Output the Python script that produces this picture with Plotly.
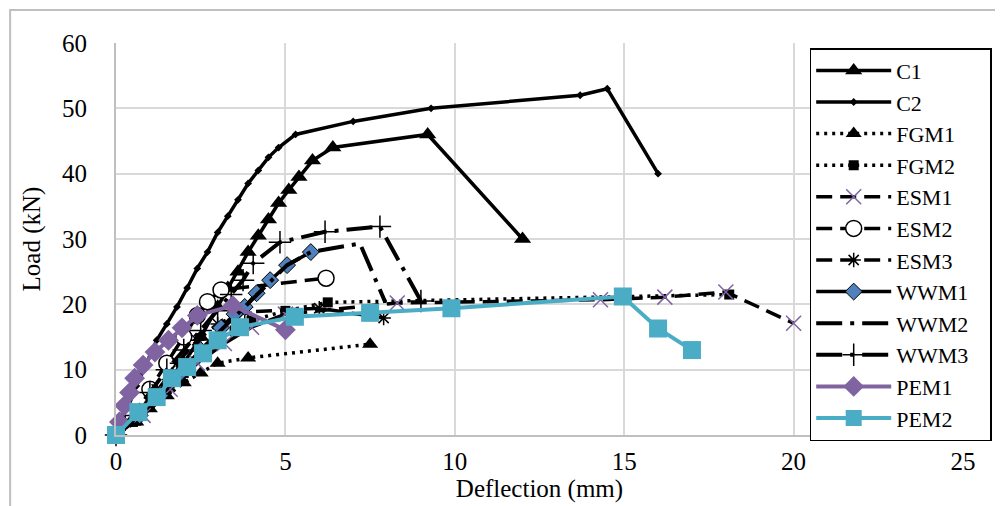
import plotly.graph_objects as go

# ---------------- data (deflection mm, load kN) ----------------
c1_x = [0, 0.5, 1.0, 1.5, 2.0, 2.5, 3.0, 3.3, 3.6, 3.9, 4.2, 4.5, 4.8, 5.1, 5.4, 5.8, 6.4, 9.2, 12.0]
c1_y = [0, 2, 5, 8, 11, 15, 19.6, 22.5, 25, 28, 30.5, 33, 35.5, 37.5, 39.5, 42, 44, 46, 30]

c2_x = [0, 0.3, 0.6, 0.9, 1.2, 1.5, 1.8, 2.1, 2.4, 2.7, 3.0, 3.3, 3.6, 3.9, 4.2, 4.5, 4.8, 5.3, 7.0, 9.3, 13.7, 14.5, 16.0]
c2_y = [0, 3.5, 7.5, 11, 14.5, 17, 19.6, 22.5, 25.5, 28, 31, 33.5, 36, 38.5, 40.5, 42.5, 44, 46, 48, 50, 52, 53, 40]

fgm1_x = [0, 0.6, 1.0, 1.5, 2.0, 2.5, 3.0, 3.9, 7.5]
fgm1_y = [0, 2, 4, 6, 8, 9.5, 11, 11.8, 13.9]

fgm2_x = [0, 0.5, 1.0, 1.5, 2.0, 2.5, 3.0, 3.5, 4.0, 5.0, 6.25, 18.1]
fgm2_y = [0, 2, 4.5, 7, 9.5, 12, 14, 16, 17.5, 19, 20.3, 21.5]

esm1_x = [0, 0.8, 1.6, 2.4, 3.2, 4.0, 5.0, 8.3, 14.3, 16.2, 18.0, 20.0]
esm1_y = [0, 3, 7, 11, 14, 16.5, 18.5, 20.2, 20.7, 21.1, 21.9, 17.1]

esm2_x = [0, 0.5, 1.0, 1.5, 2.0, 2.4, 2.7, 3.1, 6.2]
esm2_y = [0, 3, 7, 11, 15, 18.3, 20.4, 22.2, 24]

esm3_x = [0, 0.6, 1.2, 1.8, 2.4, 3.0, 3.8, 6.0, 7.9]
esm3_y = [0, 3, 7, 11, 14.5, 17, 18.8, 19.4, 17.9]

wwm1_x = [0, 0.7, 1.3, 1.9, 2.5, 3.1, 3.5, 3.8, 4.15, 4.55, 5.05, 5.75]
wwm1_y = [0, 3, 6, 9.5, 13, 16.4, 18.5, 19.6, 21.7, 23.7, 26, 28]

wwm2_x = [0, 1.3, 2.5, 3.8, 5.05, 5.75, 7.2, 7.95]
wwm2_y = [0, 6, 13, 19.6, 26, 28, 29.3, 20.3]

wwm3_x = [0, 0.5, 1.0, 1.5, 2.0, 2.5, 3.0, 3.4, 3.75, 4.05, 4.84, 6.17, 7.79, 9.0]
wwm3_y = [0, 3, 6.5, 10, 13, 16, 19, 21.5, 23.7, 26.3, 29.5, 31.1, 31.9, 20.5]

pem1_x = [0.1, 0.25, 0.4, 0.55, 0.8, 1.15, 1.55, 1.95, 2.4, 3.45, 5.0]
pem1_y = [2, 4.5, 6.5, 8.7, 10.7, 12.7, 14.5, 16.4, 18.3, 19.8, 16.1]

pem2_x = [0, 0.66, 1.2, 1.65, 2.1, 2.57, 3.0, 3.66, 5.28, 7.5, 9.9, 14.96, 16.0, 17.0]
pem2_y = [0, 3.5, 5.8, 8.7, 10.4, 12.5, 14.5, 16.5, 18.1, 18.7, 19.4, 21.2, 16.3, 13.0]

x_ticks = [0, 5, 10, 15, 20, 25]
y_ticks = [0, 10, 20, 30, 40, 50, 60]

# ---------------- styles ----------------
BLACK = "black"
PURPLE = "#8064a2"
CYAN = "#4bacc6"
BLUE = "#4f81bd"
DOT = "3px,5px"
DASH = "16px,8px"
LDD = "26px,8px,4px,8px"

series = [
    ("C1", c1_x, c1_y, dict(color=BLACK, width=3.5), dict(symbol="triangle-up", size=15, color=BLACK)),
    ("C2", c2_x, c2_y, dict(color=BLACK, width=3.5), dict(symbol="diamond", size=6, color=BLACK)),
    ("FGM1", fgm1_x, fgm1_y, dict(color=BLACK, width=3.5, dash=DOT), dict(symbol="triangle-up", size=14, color=BLACK)),
    ("FGM2", fgm2_x, fgm2_y, dict(color=BLACK, width=3.5, dash=DOT), dict(symbol="square", size=10, color=BLACK)),
    ("ESM1", esm1_x, esm1_y, dict(color=BLACK, width=3.5, dash=DASH), dict(symbol="x-thin", size=15, color=PURPLE, line=dict(color=PURPLE, width=1.5))),
    ("ESM2", esm2_x, esm2_y, dict(color=BLACK, width=3.5, dash=DASH), dict(symbol="circle", size=16, color="white", line=dict(color=BLACK, width=1.5))),
    ("ESM3", esm3_x, esm3_y, dict(color=BLACK, width=3.5, dash=DASH), dict(symbol="asterisk", size=12, color=BLACK, line=dict(color=BLACK, width=1.5))),
    ("WWM1", wwm1_x, wwm1_y, dict(color=BLACK, width=3.5), dict(symbol="diamond", size=13, color=BLUE, line=dict(color=BLACK, width=1))),
    ("WWM2", wwm2_x, wwm2_y, dict(color=BLACK, width=4, dash=LDD), None),
    ("WWM3", wwm3_x, wwm3_y, dict(color=BLACK, width=4, dash=LDD), dict(symbol="cross-thin", size=16, color=BLACK, line=dict(color=BLACK, width=1.5))),
    ("PEM1", pem1_x, pem1_y, dict(color=PURPLE, width=4), dict(symbol="diamond", size=16, color=PURPLE)),
    ("PEM2", pem2_x, pem2_y, dict(color=CYAN, width=4), dict(symbol="square", size=18, color=CYAN)),
]

fig = go.Figure()
for name, xs, ys, line, marker in series:
    fig.add_trace(go.Scatter(
        x=xs, y=ys, name=name + "\u00a0\u00a0\u00a0",
        mode="lines+markers" if marker else "lines",
        line=line, marker=marker, cliponaxis=False,
    ))

FONT = "Liberation Serif, Times New Roman, serif"

# page body adds ~8px offset; figure sized to compensate
fig.update_layout(
    width=995, height=498,
    margin=dict(l=108, r=40, t=35, b=71, autoexpand=False),
    paper_bgcolor="white", plot_bgcolor="white",
    font=dict(family=FONT, size=24, color="black"),
    showlegend=True,
    legend=dict(
        x=0.819, y=0.987, xanchor="left", yanchor="top",
        bgcolor="white", bordercolor="black", borderwidth=1.5,
        font=dict(family=FONT, size=22, color="black"),
        itemwidth=75, tracegroupgap=0, maxheight=480,
    ),
    xaxis=dict(
        range=[0, 25], tickvals=x_ticks, showgrid=True, gridcolor="#d9d9d9", gridwidth=2,
        showline=True, linecolor="#bfbfbf", linewidth=2, zeroline=False,
        ticks="", ticklabelstandoff=3, automargin=False,
        title=dict(text="Deflection (mm)", font=dict(family=FONT, size=25), standoff=4),
        tickfont=dict(family=FONT, size=25),
    ),
    yaxis=dict(
        range=[0, 60], tickvals=y_ticks, showgrid=True, gridcolor="#d9d9d9", gridwidth=2,
        showline=True, linecolor="#bfbfbf", linewidth=2, zeroline=False,
        ticks="", ticklabelstandoff=22, automargin=False,
        title=dict(text="Load (kN)", font=dict(family=FONT, size=25), standoff=14),
        tickfont=dict(family=FONT, size=25),
    ),
    shapes=[dict(
        type="rect", xref="paper", yref="paper",
        x0=-0.125, x1=1.2, y0=-0.3, y1=1.084,
        line=dict(color="#bfbfbf", width=2), fillcolor="rgba(0,0,0,0)", layer="below",
    )],
)

fig.write_html("out.html")
